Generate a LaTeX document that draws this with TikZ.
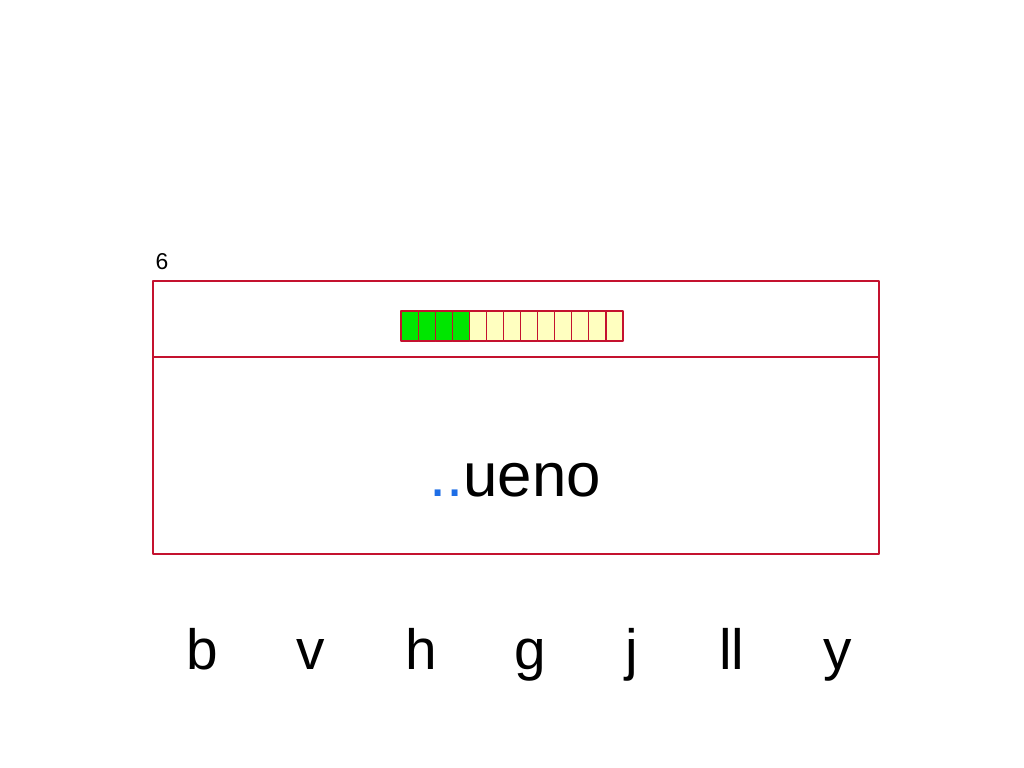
\documentclass[tikz,border=0pt]{standalone}
\usepackage{fontspec}
\setmainfont{Liberation Sans}
\definecolor{frame}{HTML}{C4122F}
\definecolor{done}{HTML}{00E600}
\definecolor{todo}{HTML}{FFFFC0}
\definecolor{dots}{HTML}{1E6EE6}
\begin{document}
\begin{tikzpicture}[x=1bp,y=-1bp,line join=round,
    cell/.style={draw=frame,line width=1.1bp},
    letter/.style={anchor=base,font=\fontsize{57}{57}\selectfont}]
  \useasboundingbox (0,0) rectangle (1024,768);
  \node[anchor=base,font=\fontsize{23}{23}\selectfont] (num) at (162,269) {6};
  \draw[frame,line width=1.3bp]
    (153,281) rectangle (879,554)
    (153,357) -- (879,357);
  \foreach \i in {0,...,12}{
    \ifnum\i<4 \def\c{done}\else\def\c{todo}\fi
    \filldraw[cell,fill=\c] ({401+\i*17.08},311) rectangle ++(17.08,30);
  }
  \node[anchor=base,font=\fontsize{62}{62}\selectfont] (word) at (515,496)
    {\textcolor{dots}{..}ueno};
  \foreach \x/\l [count=\k] in {202/b,311/v,421/h,530/g,631.5/j,732/ll,838/y}
    \node[letter] (opt\k) at (\x,669) {\l};
\end{tikzpicture}
\end{document}
